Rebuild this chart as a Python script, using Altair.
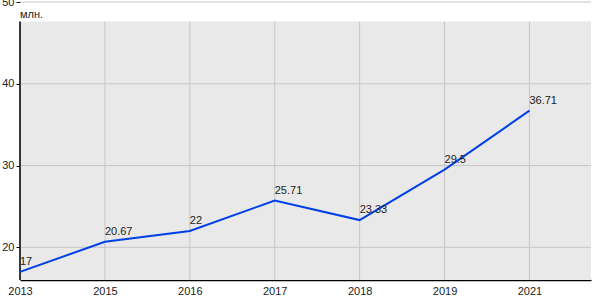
import altair as alt
import pandas as pd

years = ["2013", "2015", "2016", "2017", "2018", "2019", "2021"]
values = [17, 20.67, 22, 25.71, 23.33, 29.5, 36.71]
labels = ["17", "20.67", "22", "25.71", "23.33", "29.5", "36.71"]
y_ticks = [20, 30, 40, 50]
unit = "млн."

df = pd.DataFrame({"i": list(range(len(years))), "year": years, "v": values, "lab": labels})
grid_h = pd.DataFrame({"g": y_ticks})
grid_v = pd.DataFrame({"i": list(range(len(years)))})

W, H = 571, 278
Y0, Y1, YTOP = 16, 50, 47.6
XMAX = 6.725

font = "Liberation Sans"
labexpr = "[" + ",".join("'%s'" % y for y in years) + "][datum.value]"

xs = alt.Scale(domain=[0, XMAX], nice=False, zero=False)
ys = alt.Scale(domain=[Y0, Y1], nice=False, zero=False)

xaxis = alt.Axis(values=list(range(len(years))), labelExpr=labexpr, grid=False, ticks=False,
                 domain=True, domainColor="#000000", domainWidth=1.5, labelFont=font,
                 labelFontSize=11, labelColor="#222222", labelPadding=5, title=None,
                 labelFlush=False, labelOverlap=False)
yaxis = alt.Axis(values=y_ticks, grid=False, ticks=True, tickSize=4, tickColor="#000000",
                 domain=False, labelFont=font, labelFontSize=11, labelColor="#222222",
                 labelPadding=2, title=None)

bg = alt.Chart(pd.DataFrame({"a": [Y0], "b": [YTOP]})).mark_rect(color="#e9e9e9").encode(
    x=alt.value(0), x2=alt.value(W),
    y=alt.Y("a:Q", scale=ys, axis=yaxis), y2="b:Q")

hgrid = alt.Chart(grid_h).mark_rule(color="#c6c6c6", strokeWidth=1).encode(
    y=alt.Y("g:Q", scale=ys), x=alt.value(0), x2=alt.value(W))

vgrid = alt.Chart(grid_v).mark_rule(color="#c6c6c6", strokeWidth=1).encode(
    x=alt.X("i:Q", scale=xs, axis=xaxis),
    y=alt.datum(Y0, scale=ys), y2=alt.datum(YTOP))

yline = alt.Chart(pd.DataFrame({"a": [Y0], "b": [YTOP]})).mark_rule(color="#000000", strokeWidth=1.5).encode(
    x=alt.value(0), y=alt.Y("a:Q", scale=ys), y2="b:Q")

line = alt.Chart(df).mark_line(color="#0040e8", strokeWidth=2).encode(
    x=alt.X("i:Q", scale=xs), y=alt.Y("v:Q", scale=ys))

text = alt.Chart(df).mark_text(align="left", baseline="alphabetic", dx=0, dy=-7,
                               font=font, fontSize=11, color="#222222").encode(
    x=alt.X("i:Q", scale=xs), y=alt.Y("v:Q", scale=ys), text="lab:N")

unit_txt = alt.Chart(pd.DataFrame({"t": [unit]})).mark_text(
    align="left", baseline="middle", font=font, fontSize=11, color="#222222").encode(
    x=alt.value(0), y=alt.value(13), text="t:N")

chart = alt.layer(bg, hgrid, vgrid, yline, line, text, unit_txt).properties(
    width=W, height=H,
    autosize=alt.AutoSizeParams(type="none"),
    padding={"left": 20, "top": 2, "right": 9, "bottom": 20},
    background="white",
).configure_view(stroke=None, fill="white")

chart.save("out.html", embed_options={"renderer": "svg", "actions": False})
